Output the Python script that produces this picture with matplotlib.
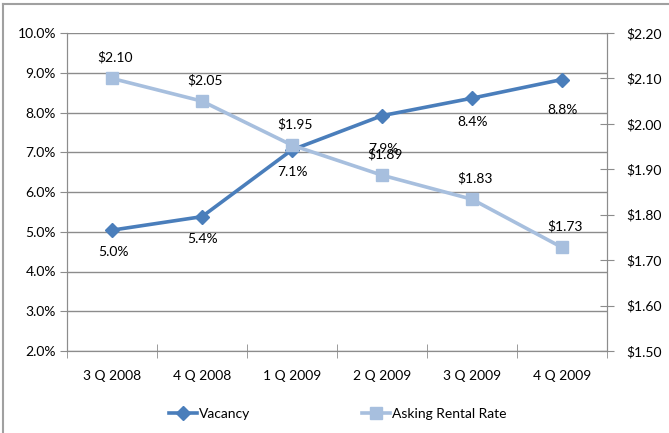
import matplotlib.pyplot as plt
from matplotlib.lines import Line2D
from matplotlib.ticker import FuncFormatter

plt.rcParams["font.family"] = ["Lato", "DejaVu Sans"]

quarters = ["3 Q 2008", "4 Q 2008", "1 Q 2009", "2 Q 2009", "3 Q 2009", "4 Q 2009"]
vacancy = [5.04, 5.38, 7.06, 7.92, 8.36, 8.83]          # percent
asking_rate = [2.10, 2.05, 1.953, 1.887, 1.834, 1.728]  # $ per sq ft

VAC_COLOR = "#4A7EBB"
RATE_COLOR = "#A7BFDE"
GRID_COLOR = "#8C8C8C"

fig = plt.figure(figsize=(6.69, 4.33), dpi=100)
ax = fig.add_axes([67 / 669, 1 - 351 / 433, 540 / 669, 318 / 433])
ax2 = ax.twinx()

x = list(range(len(quarters)))

# primary axis: vacancy
ax.plot(x, vacancy, color=VAC_COLOR, lw=2.6, marker="D", ms=7, zorder=3)
ax.set_ylim(2, 10)
ax.set_yticks(range(2, 11))
ax.yaxis.set_major_formatter(FuncFormatter(lambda v, _: f"{v:.1f}%"))
ax.set_xlim(-0.5, len(quarters) - 0.5)
ax.set_xticks(x)
ax.set_xticklabels(quarters)
ax.set_xticks([i - 0.5 for i in range(len(quarters) + 1)], minor=True)
ax.tick_params(axis="x", which="major", length=0, pad=14, labelsize=10)
ax.tick_params(axis="x", which="minor", length=10, direction="inout", color=GRID_COLOR)
ax.tick_params(axis="y", length=5, direction="out", color=GRID_COLOR, labelsize=10, pad=3)
ax.grid(axis="y", color=GRID_COLOR, lw=1)
ax.set_axisbelow(True)

# secondary axis: asking rent
ax2.plot(x, asking_rate, color=RATE_COLOR, lw=2.6, marker="s", ms=9, zorder=3)
ax2.set_ylim(1.5, 2.2)
ax2.set_yticks([1.5 + 0.1 * i for i in range(8)])
ax2.yaxis.set_major_formatter(FuncFormatter(lambda v, _: f"${v:.2f}"))
ax2.tick_params(axis="y", length=10, direction="inout", color=GRID_COLOR, labelsize=10, pad=9)

for a in (ax, ax2):
    for side, sp in a.spines.items():
        sp.set_color(GRID_COLOR)
        sp.set_visible(side in ("left", "right", "bottom"))

# data labels
vac_dy = [-22, -22, -22, -33, -24, -30]
for xi, v, dy in zip(x, vacancy, vac_dy):
    ax.annotate(f"{v:.1f}%", (xi, v), xytext=(1, dy), textcoords="offset pixels",
                ha="center", va="center", fontsize=10, zorder=5)
for xi, r in zip(x, asking_rate):
    ax2.annotate(f"${r:.2f}", (xi, r), xytext=(3, 21), textcoords="offset pixels",
                 ha="center", va="center", fontsize=10, zorder=5)

# legend
handles = [
    Line2D([], [], color=VAC_COLOR, lw=2.6, marker="D", ms=7),
    Line2D([], [], color=RATE_COLOR, lw=2.6, marker="s", ms=9),
]
fig.legend(handles, ["Vacancy", "Asking Rental Rate"], loc="center",
           bbox_to_anchor=(0.505, 1 - 414 / 433), ncol=2, frameon=False,
           fontsize=10, handlelength=2.0, handletextpad=0.2, columnspacing=8.0)

# chart frame
fig.add_artist(Line2D([3 / 669, 3 / 669], [0, 1 - 4 / 433], color="#A0A0A0", lw=1.5))
fig.add_artist(Line2D([3 / 669, 1], [1 - 4 / 433, 1 - 4 / 433], color="#A0A0A0", lw=1.5))

fig.savefig("out.png", dpi=100)
